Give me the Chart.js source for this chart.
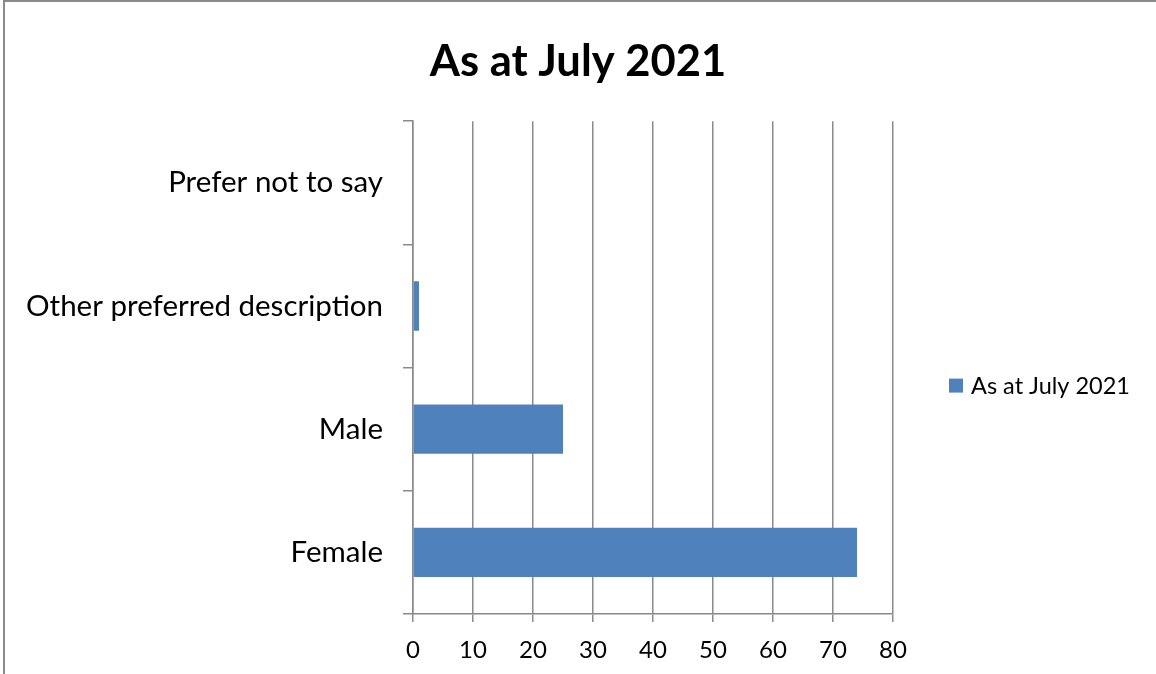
<!DOCTYPE html>
<html>
<head>
<meta charset="utf-8">
<script src="https://cdn.jsdelivr.net/npm/chart.js@4/dist/chart.umd.min.js"></script>
<style>
  html, body { margin: 0; padding: 0; background: #fff; overflow: hidden; }
  #frame { position: absolute; left: 3px; top: 0; width: 1170px; height: 690px; border: 2px solid #8a8a8a; box-sizing: border-box; }
  #wrap { position: absolute; left: 0; top: 0; width: 1156px; height: 674px; }
</style>
</head>
<body>
<div id="frame"></div>
<div id="wrap"><canvas id="chart" width="1156" height="674"></canvas></div>
<script>
const categories = ["Prefer not to say", "Other preferred description", "Male", "Female"];
const seriesLabel = "As at July 2021";
const seriesValues = [0, 1, 25, 74];
const xTicks = [0, 10, 20, 30, 40, 50, 60, 70, 80];

const fontFamily = "Lato, 'Open Sans', sans-serif";
const gridColor = "#8a8a8a";
const barColor = "#4f81bd";

// legend drawn to the right of the plot, like the Excel original
const sideLegend = {
  id: "sideLegend",
  afterDraw(chart) {
    const ctx = chart.ctx;
    const area = chart.chartArea;
    const midY = (area.top + area.bottom) / 2 + 18;
    const x = area.right + 56;
    ctx.save();
    ctx.fillStyle = barColor;
    ctx.fillRect(x, midY - 7, 14, 14);
    ctx.fillStyle = "#000";
    ctx.font = "23.5px " + fontFamily;
    ctx.textBaseline = "middle";
    ctx.fillText(chart.data.datasets[0].label, x + 22, midY + 1);
    ctx.restore();
  }
};

new Chart(document.getElementById("chart"), {
  type: "bar",
  data: {
    labels: categories,
    datasets: [
      {
        label: seriesLabel,
        data: seriesValues,
        backgroundColor: barColor,
        borderWidth: 0,
        categoryPercentage: 0.4,
        barPercentage: 1
      }
    ]
  },
  options: {
    indexAxis: "y",
    responsive: false,
    animation: false,
    plugins: {
      legend: { display: false },
      tooltip: { enabled: false },
      title: {
        display: true,
        text: seriesLabel,
        color: "#000",
        font: { family: fontFamily, size: 43.5, weight: "bold" },
        padding: { top: 36, bottom: 33 }
      }
    },
    scales: {
      x: {
        min: 0,
        max: 80,
        afterBuildTicks: (scale) => {
          scale.ticks = xTicks.map((v) => ({ value: v }));
        },
        afterFit: (scale) => {
          scale.height = 60;
        },
        ticks: {
          color: "#000",
          padding: 14,
          font: { family: fontFamily, size: 24 }
        },
        grid: {
          color: gridColor,
          lineWidth: 1.5,
          tickLength: 8
        },
        border: { color: gridColor, width: 1.5 }
      },
      y: {
        afterFit: (scale) => {
          scale.width = 413;
        },
        ticks: {
          color: "#000",
          padding: 20,
          font: { family: fontFamily, size: 29.5 }
        },
        grid: {
          drawOnChartArea: false,
          color: gridColor,
          lineWidth: 1.5,
          tickLength: 10,
          offset: true
        },
        border: { color: gridColor, width: 1.5 }
      },
      // empty right-hand space reserved for the legend
      side: {
        type: "category",
        position: "right",
        afterFit: (scale) => {
          scale.width = 263;
        },
        ticks: { display: false },
        grid: { display: false },
        border: { display: false }
      }
    }
  },
  plugins: [sideLegend]
});
</script>
</body>
</html>
